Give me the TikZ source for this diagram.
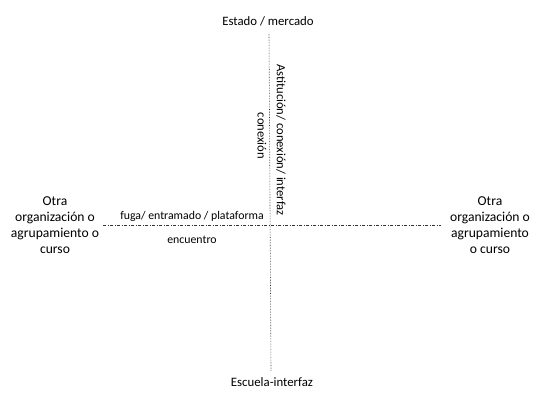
\documentclass[tikz,border=0pt]{standalone}
\usepackage{fontspec}
\setmainfont{Carlito}
\usetikzlibrary{positioning}

\begin{document}
\begin{tikzpicture}[x=1pt,y=-1pt, auto,swap,
  polo/.style={font=\fontsize{12.8}{16}\selectfont, align=center, inner sep=0pt},
  lado/.style={font=\fontsize{13.6}{16.2}\selectfont, align=center, inner sep=0pt},
  etiq/.style={font=\fontsize{11.8}{13}\selectfont, inner sep=0pt},
  etiqv/.style={font=\fontsize{12.6}{13}\selectfont, inner sep=0pt, rotate=-90},
  eje/.style={black!80, line width=0.6pt}]
\useasboundingbox (0,0) rectangle (538,403);

\node[polo] (estado) at (268,21) {Estado / mercado};
\node[polo] (escuela) at (272,382) {Escuela-interfaz};
\node[lado] (izq) at (55,225) {Otra\\organización o\\agrupamiento o\\curso};
\node[lado] (der) at (490,225) {Otra\\organización o\\agrupamiento\\o curso};

\coordinate (arriba) at (269,34);
\coordinate (abajo) at (271,371);
\coordinate (oeste) at (103,225);
\coordinate (este) at (441,225);

\draw[eje, densely dotted] (arriba) -- (abajo);
\draw[eje, dash pattern=on 3pt off 1.5pt on 1pt off 1.5pt] (oeste) -- (este);

\node[etiqv] (astitucion) at (281,140) {Astitución/ conexión/ interfaz};
\node[etiqv] (conexion) at (262,136) {conexión};
\node[etiq] (fuga) at (192,216) {fuga/ entramado / plataforma};
\node[etiq] (encuentro) at (192,240) {encuentro};

    \end{tikzpicture}
\end{document}
